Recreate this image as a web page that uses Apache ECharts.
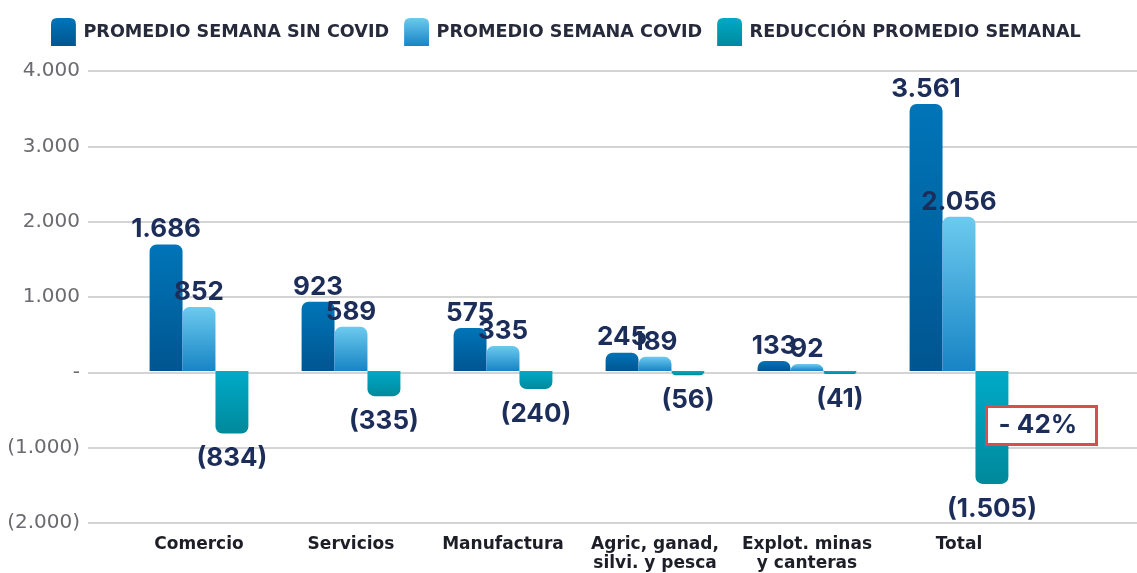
<!DOCTYPE html>
<html>
<head>
<meta charset="utf-8">
<script src="https://cdn.jsdelivr.net/npm/echarts@6/dist/echarts.min.js"></script>
<style>
  html, body { margin: 0; padding: 0; background: #fff; }
  #chart { width: 1137px; height: 573px; }
</style>
</head>
<body>
<div id="chart"></div>
<script>
// datos
var categories = ['Comercio', 'Servicios', 'Manufactura', 'Agric, ganad,\nsilvi. y pesca', 'Explot. minas\ny canteras', 'Total'];
var sinCovid = [1686, 923, 575, 245, 133, 3561];
var conCovid = [852, 589, 335, 189, 92, 2056];
var reduccion = [-834, -335, -240, -56, -41, -1505];
var legendNames = ['PROMEDIO SEMANA SIN COVID', 'PROMEDIO SEMANA COVID', 'REDUCCIÓN PROMEDIO SEMANAL'];
var reduccionTotal = '- 42%';

var myChart = echarts.init(document.getElementById('chart'));

// formato 1.686 / (834) / -
function fmt(v) {
  if (v === 0) return '-';
  var s = Math.abs(v).toString().replace(/\B(?=(\d{3})+(?!\d))/g, '.');
  return v < 0 ? '(' + s + ')' : s;
}

function grad(top, bottom) {
  return new echarts.graphic.LinearGradient(0, 0, 0, 1, [
    {offset: 0, color: top},
    {offset: 1, color: bottom}
  ]);
}

var FONT = 'Inter';
var WIDE = 'DejaVu Sans';
var NAVY = '#1c2d5a';
var iconPath = 'path://M0,6 Q0,0 6,0 L18,0 Q24,0 24,6 L24,27 L0,27 Z';

var barLabel = {
  show: true,
  position: 'top',
  distance: 2,
  fontFamily: FONT,
  fontWeight: 'bold',
  fontSize: 26,
  color: NAVY,
  formatter: function (p) { return fmt(p.value); }
};

var option = {
  backgroundColor: '#fff',
  textStyle: {fontFamily: FONT},
  legend: {
    top: 13,
    left: 46,
    itemWidth: 26,
    itemHeight: 28,
    itemGap: 15,
    icon: iconPath,
    textStyle: {fontFamily: WIDE, fontWeight: 'bold', fontSize: 17.6, color: '#262a3a', padding: [0, 0, 0, 2]},
    data: legendNames
  },
  grid: [
    {left: 123, right: 102, top: 71, bottom: 50},
    {left: 88, right: 0, top: 71, bottom: 50}
  ],
  xAxis: [
    {
      type: 'category',
      gridIndex: 0,
      data: categories,
      axisLine: {show: false},
      axisTick: {show: false},
      axisLabel: {
        margin: 14,
        fontFamily: WIDE,
        fontWeight: 'bold',
        fontSize: 17,
        lineHeight: 19,
        color: '#1e1e28',
        interval: 0
      }
    },
    {type: 'value', gridIndex: 1, show: false, min: 0, max: 1}
  ],
  yAxis: [
    {
      type: 'value',
      gridIndex: 0,
      min: -2000, max: 4000, interval: 1000,
      show: false
    },
    {
      type: 'value',
      gridIndex: 1,
      min: -2000, max: 4000, interval: 1000,
      axisLine: {show: false},
      axisTick: {show: false},
      axisLabel: {
        margin: 8,
        fontFamily: WIDE,
        fontSize: 20,
        color: '#6a6a70',
        formatter: fmt
      },
      splitLine: {lineStyle: {color: '#d4d4d4', width: 2}}
    }
  ],
  series: [
    {
      name: legendNames[0],
      type: 'bar',
      xAxisIndex: 0, yAxisIndex: 0,
      barGap: '0%',
      barCategoryGap: '35%',
      data: sinCovid,
      itemStyle: {color: grad('#0075b8', '#005590'), borderRadius: [7, 7, 0, 0]},
      label: barLabel
    },
    {
      name: legendNames[1],
      type: 'bar',
      xAxisIndex: 0, yAxisIndex: 0,
      barGap: '0%',
      barCategoryGap: '35%',
      data: conCovid,
      itemStyle: {color: grad('#6ccaef', '#1784c4'), borderRadius: [7, 7, 0, 0]},
      label: barLabel
    },
    {
      name: legendNames[2],
      type: 'bar',
      xAxisIndex: 0, yAxisIndex: 0,
      barGap: '0%',
      barCategoryGap: '35%',
      data: reduccion,
      itemStyle: {color: grad('#00aac8', '#00899b'), borderRadius: [0, 0, 7, 7]},
      label: Object.assign({}, barLabel, {position: 'bottom', distance: 12})
    }
  ],
  graphic: [
    {
      type: 'group',
      left: 985,
      top: 405,
      z: 100,
      children: [
        {
          type: 'rect',
          z: 100,
          shape: {x: 0, y: 0, width: 110, height: 38},
          style: {fill: '#fff', stroke: '#d0524e', lineWidth: 3}
        },
        {
          type: 'text',
          z: 101,
          x: 12, y: 6,
          style: {text: reduccionTotal, fontFamily: FONT, fontWeight: 'bold', fontSize: 26, fill: NAVY}
        }
      ]
    }
  ]
};

myChart.setOption(option);
</script>
</body>
</html>
